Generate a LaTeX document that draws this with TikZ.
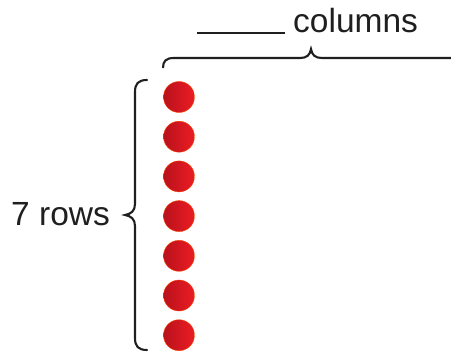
\documentclass[tikz,border=0pt]{standalone}
\usepackage{fontspec}
\setmainfont{Liberation Sans}
\definecolor{dotL}{HTML}{B8121C}
\definecolor{dotR}{HTML}{EC1C24}
\begin{document}
\begin{tikzpicture}[x=1pt,y=-1pt,
  txt/.style={text=black!88, font=\fontsize{33.5}{38}\selectfont, inner sep=0pt},
  dot/.style={circle, minimum size=31pt, inner sep=0pt, left color=dotL, right color=dotR, draw=orange!50!red, line width=0.4pt},
  brace/.style={draw=black!88, line width=2.1pt, line cap=round}]
\useasboundingbox (0,0) rectangle (451,354);
\clip (0,0) rectangle (451,354);
\foreach \i in {0,...,6} {
  \node[dot] (d\i) at (179,{97+\i*39.7}) {};
}
\node[txt, anchor=base west] (rows) at (11,225) {7 rows};
\node[txt, anchor=base west] (cols) at (293,32) {columns};
\coordinate (bl) at (197,33);
\coordinate (br) at (285,33);
\draw[black!88, line width=1.8pt] (bl) -- (br);
\draw[brace] (147,80) .. controls (138,80) and (135,84) .. (135,92) -- (135,204)
  .. controls (135,211) and (131,214) .. (125,215)
  .. controls (131,216) and (135,219) .. (135,226) -- (135,338)
  .. controls (135,346) and (138,350) .. (147,350);
\draw[brace, line cap=butt] (163,68) .. controls (163,61) and (166,58) .. (174,58) -- (300,58)
  .. controls (307,58) and (310,55) .. (311,49)
  .. controls (312,55) and (315,58) .. (322,58) -- (452,58);
\end{tikzpicture}
\end{document}
